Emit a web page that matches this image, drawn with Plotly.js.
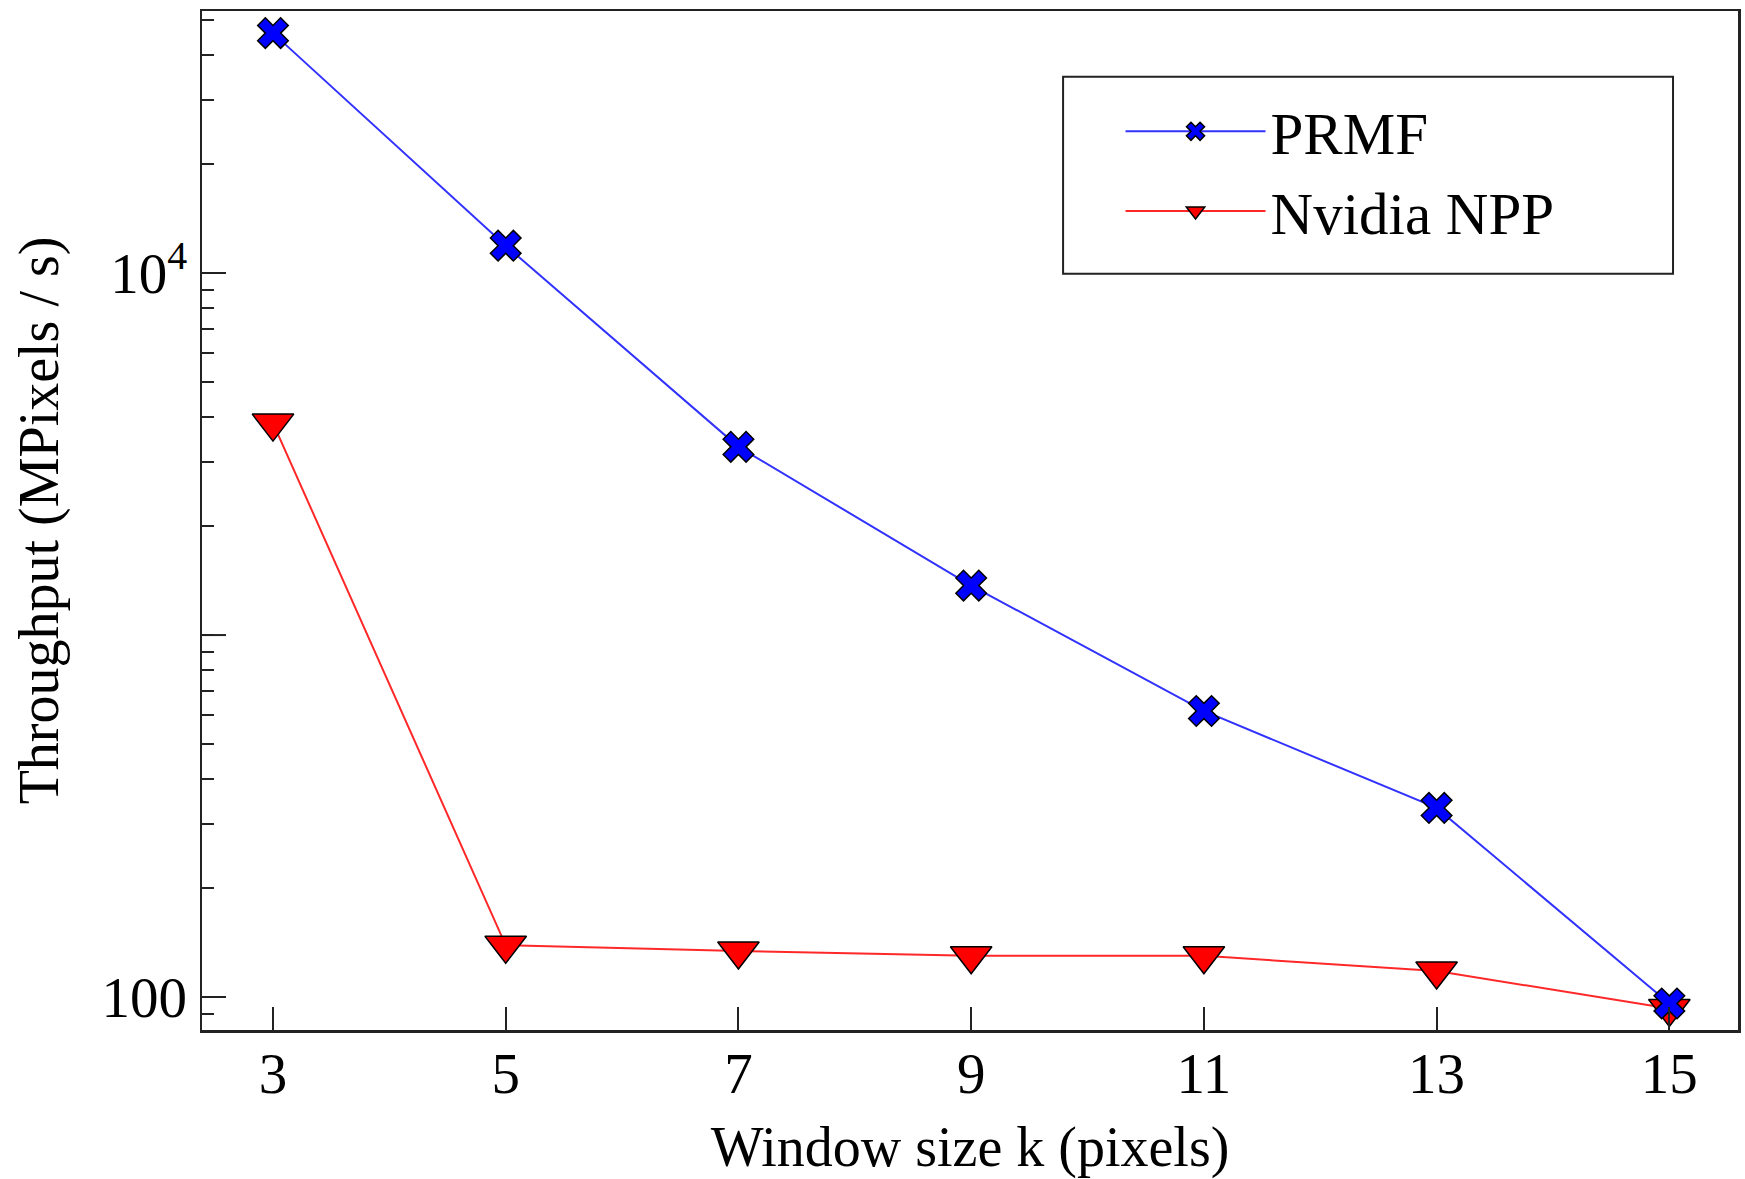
<!DOCTYPE html>
<html>
<head>
<meta charset="utf-8">
<script src="https://cdn.plot.ly/plotly-3.0.1.min.js"></script>
<style>
  html, body { margin: 0; padding: 0; background: #ffffff; }
  #chart { width: 1745px; height: 1179px; }
</style>
</head>
<body>
<div id="chart"></div>
<script>
// Window sizes (x axis)
const windowSizes = [3, 5, 7, 9, 11, 13, 15];
// Throughput, MPixels / s (log scale)
const prmfThroughput = [46000, 11900, 3310, 1370, 617, 333, 96];
const nppThroughput  = [3850, 139, 134, 130, 130, 118, 93];
// Series names
const seriesNames = ["PRMF", "Nvidia NPP"];
// Axis tick labels
const xTickVals = [3, 5, 7, 9, 11, 13, 15];
const xTickText = ["3", "5", "7", "9", "11", "13", "15"];
const yTickVals = [100, 10000];
const yTickText = ["100", "10<sup>4</sup>"];
const yUnlabeledMajor = [1000];

const FONT = "Liberation Serif, Times New Roman, serif";

const traces = [
  {
    x: windowSizes, y: nppThroughput, name: seriesNames[1],
    type: "scatter", mode: "lines+markers", legendrank: 2,
    line: { color: "rgb(255,40,40)", width: 2 },
    marker: { symbol: "triangle-down", size: 36, color: "#ff0000",
              line: { color: "#000000", width: 1.5 } }
  },
  {
    x: windowSizes, y: prmfThroughput, name: seriesNames[0],
    type: "scatter", mode: "lines+markers", legendrank: 1,
    line: { color: "rgb(50,50,255)", width: 2 },
    marker: { symbol: "x", size: 27, color: "#0000ff",
              line: { color: "#000000", width: 1.5 } }
  }
];

const majorTickShapes = yUnlabeledMajor.map(v => ({
  type: "line", xref: "paper", yref: "y",
  x0: 0, x1: 24 / 1536, y0: v, y1: v,
  line: { color: "#222222", width: 2 }, layer: "above"
}));

const layout = {
  width: 1745, height: 1179,
  paper_bgcolor: "#ffffff", plot_bgcolor: "#ffffff",
  margin: { l: 202, r: 7, t: 11, b: 149 },
  font: { family: FONT, size: 57, color: "#000000" },
  showlegend: true,
  legend: {
    x: 0.598, y: 0.926, xanchor: "left", yanchor: "top",
    bgcolor: "rgba(0,0,0,0)", borderwidth: 0,
    font: { family: FONT, size: 59, color: "#000000" },
    itemsizing: "trace", itemwidth: 140
  },
  xaxis: {
    range: [2.39, 15.59],
    tickmode: "array", tickvals: xTickVals, ticktext: xTickText,
    ticks: "inside", ticklen: 23, tickwidth: 2, tickcolor: "#222222",
    showline: true, linecolor: "#222222", linewidth: 2.5, mirror: true,
    showgrid: false, zeroline: false,
    tickfont: { family: FONT, size: 57 },
    ticklabelstandoff: -8,
    title: { text: "Window size k (pixels)", font: { family: FONT, size: 56 }, standoff: 28 }
  },
  yaxis: {
    type: "log",
    range: [Math.log10(81.1), Math.log10(52950)],
    tickmode: "array", tickvals: yTickVals, ticktext: yTickText,
    ticks: "inside", ticklen: 24, tickwidth: 2, tickcolor: "#222222",
    minor: { tickmode: "linear", dtick: "D1", ticks: "inside", ticklen: 12,
             tickwidth: 2, tickcolor: "#222222", showgrid: false },
    showline: true, linecolor: "#222222", linewidth: 2.5, mirror: true,
    showgrid: false, zeroline: false,
    tickfont: { family: FONT, size: 57 },
    ticklabelstandoff: 1,
    title: { text: "Throughput (MPixels / s)", font: { family: FONT, size: 56 }, standoff: 25 }
  },
  shapes: [
    { type: "rect", xref: "paper", yref: "paper",
      x0: 0.5606, x1: 0.9577, y0: 0.7421, y1: 0.9354,
      line: { color: "#222222", width: 2 }, fillcolor: "rgba(0,0,0,0)", layer: "above" }
  ].concat(majorTickShapes)
};

Plotly.newPlot("chart", traces, layout, { displayModeBar: false, staticPlot: true });
</script>
</body>
</html>
